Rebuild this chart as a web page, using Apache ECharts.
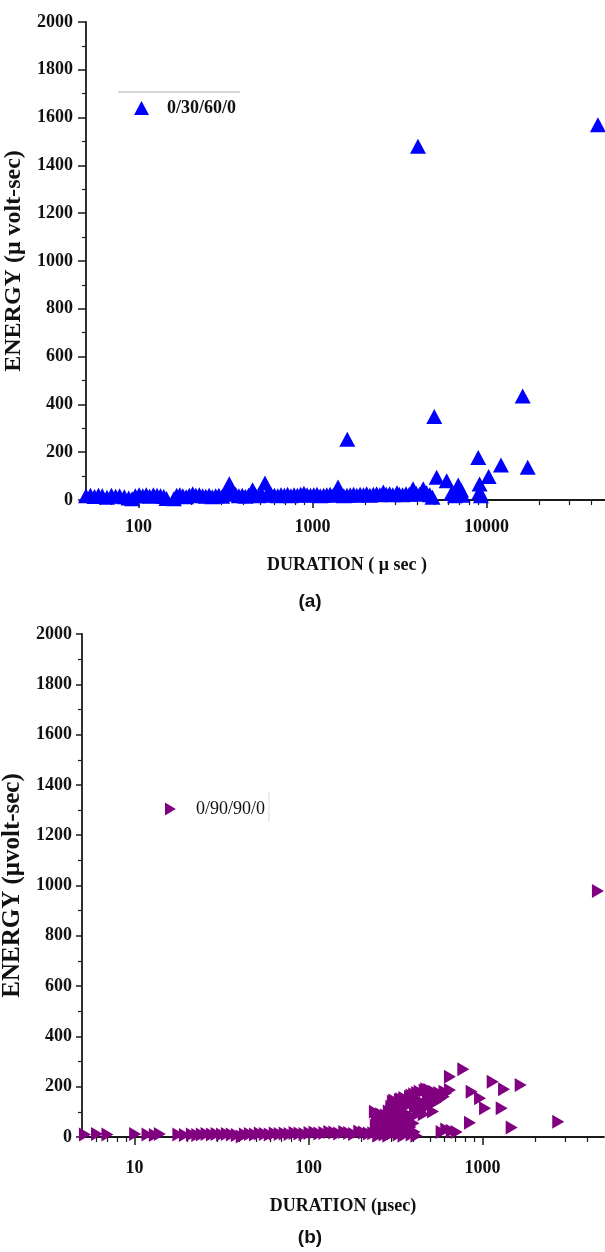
<!DOCTYPE html>
<html><head><meta charset="utf-8">
<script src="https://cdn.jsdelivr.net/npm/echarts@6/dist/echarts.min.js"></script>
<style>html,body{margin:0;padding:0;background:#fff;}#c{width:605px;height:1252px;}</style>
</head><body><div id="c"></div>
<script>
// ---------- DATA ----------
const seriesNameA = '0/30/60/0';
const seriesNameB = '0/90/90/0';

// Panel (a): duration (µs) and energy (µvolt-sec)
const durationA = [50,53,56,59,62,66,70,74,78,83,88,92,96,101,106,111,116,122,128,134,140,145,160,166,173,180,188,196,205,214,224,234,244,255,266,278,290,303,317,333,348,362,378,395,412,430,453,470,490,512,534,555,580,605,632,660,690,720,752,785,820,856,894,933,975,1018,1063,1110,1160,1210,1265,1320,1380,1404,1450,1515,1580,1650,1725,1800,1880,1965,2050,2140,2240,2340,2440,2556,2660,2780,2900,3065,3160,3300,3450,3600,3790,3950,4130,4336,4530,4730,4900,
  1587,4045,5018,5176,5913,6300,6600,6890,7150,7300,8981,9140,9140,9300,10300,12130,16170,17280,43750];
const energyA = [18,20,15,20,18,12,20,16,18,14,8,5,18,22,18,22,16,22,20,18,15,6,5,20,22,18,14,20,26,20,22,18,16,20,14,18,20,16,30,68,35,24,18,20,16,20,43,22,18,22,71,30,22,20,18,22,20,24,18,22,20,24,28,22,20,22,24,18,20,22,24,20,30,54,24,18,20,22,24,20,24,22,26,20,24,26,22,33,24,26,22,30,24,22,26,24,47,28,24,47,30,22,12,
  254,1480,349,95,81,28,18,63,42,20,178,67,35,18,98,146,435,137,1570];

// Panel (b)
const durationB = [5.2,6.1,7.0,10.1,11.9,13.1,14.0,17.9,19.5,21.4,23,24.4,26,27.9,29.7,31.9,34,36.3,38.8,41.4,43.2,46.1,49.3,52.6,56.2,60,64.1,68.4,73,78,83.3,89,95,101.5,108.4,115.7,123.6,132,141,150.5,160.8,171.6,183,196,209,223,
  236,244,248,241,252,258,250,262,262,268,257,274,266,280,278,285,290,288,296,284,300,305,296,310,318,308,314,330,322,328,340,334,345,352,348,357,366,360,370,378,372,392,386,398,408,402,418,
  300,306,316,312,330,336,346,342,362,356,380,384,396,392,410,414,406,425,430,422,440,446,436,460,455,466,480,486,476,500,505,496,520,515,526,545,550,570,565,600,606,620,
  583,620,651,651,666,711,777,849,868,970,1036,1146,1291,1332,1474,1660,2729,4616];
const energyB = [10,12,10,12,10,8,12,10,8,10,8,10,12,10,12,10,12,10,8,2,10,12,10,14,12,10,14,12,14,12,16,14,12,16,18,14,16,20,18,14,20,16,12,22,18,14,
  15,45,80,100,5,30,60,90,20,50,72,10,40,85,25,55,101,5,35,70,107,15,50,85,25,60,95,10,40,75,20,55,100,5,30,65,15,45,90,25,60,10,40,80,20,55,5,
  120,140,110,145,125,147,135,150,120,155,130,160,140,165,120,150,170,110,145,175,100,140,180,90,135,185,120,160,190,130,170,187,101,150,180,140,170,150,175,160,180,175,
  20,30,240,187,25,20,269,57,180,154,114,220,114,190,38,207,61,978];

const xLabelsA = [100,1000,10000];
const xMinorA = [60,70,80,90,200,300,400,500,600,700,800,900,2000,3000,4000,5000,6000,7000,8000,9000,20000,30000,40000];
const xLabelsB = [10,100,1000];
const xMinorB = [6,7,8,9,20,30,40,50,60,70,80,90,200,300,400,500,600,700,800,900,2000,3000,4000];

// ---------- CHART ----------
const serif = 'Liberation Serif';
const axisColor = '#1a1a1a';
const triRight = 'path://M0,0L10,6L0,12Z';

function pairs(xs, ys){ return xs.map((x,i)=>[x, ys[i]]); }

function yAxisCfg(grid, name, gap, margin, tickLen, nameSize){
  return {
    gridIndex: grid, type:'value', min:0, max:2000, interval:200,
    name: name, nameLocation:'middle', nameGap: gap,
    nameTextStyle:{fontFamily:serif, fontWeight:'bold', fontSize:nameSize, color:'#111'},
    axisLine:{show:true, lineStyle:{color:axisColor, width:1.8}},
    axisTick:{show:true, length:tickLen, lineStyle:{color:axisColor, width:1.5}},
    minorTick:{show:true, splitNumber:2, length:4, lineStyle:{color:axisColor, width:1.2}},
    splitLine:{show:false},
    axisLabel:{fontFamily:serif, fontWeight:'bold', fontSize:18, color:'#111', margin: margin,
      formatter: v => String(v)}
  };
}
function xMajorCfg(grid, name, gap, mn, mx, labels, margin){
  return {
    gridIndex: grid, type:'log', logBase:10, min:mn, max:mx,
    name: name, nameLocation:'middle', nameGap: gap,
    nameTextStyle:{fontFamily:serif, fontWeight:'bold', fontSize:18, color:'#111'},
    axisLine:{show:true, lineStyle:{color:axisColor, width:1.8}},
    axisTick:{show:true, length:8, customValues: labels, lineStyle:{color:axisColor, width:1.5}},
    splitLine:{show:false},
    axisLabel:{fontFamily:serif, fontWeight:'bold', fontSize:18, color:'#111', margin: margin,
      customValues: labels, formatter: v => String(Math.round(v))}
  };
}
function xMinorCfg(grid, mn, mx, minors){
  return {
    gridIndex: grid, type:'log', logBase:10, min:mn, max:mx, position:'bottom',
    axisLine:{show:false},
    axisTick:{show:true, length:5, customValues: minors, lineStyle:{color:axisColor, width:1.2}},
    axisLabel:{show:false}, splitLine:{show:false}
  };
}

const chart = echarts.init(document.getElementById('c'), null, {renderer:'canvas'});
chart.setOption({
  backgroundColor:'#ffffff',
  animation:false,
  grid:[
    {left:86, top:22, width:522, height:478, outerBoundsMode:'none', containLabel:false},
    {left:82, top:634, width:522, height:503, outerBoundsMode:'none', containLabel:false}
  ],
  xAxis:[
    xMajorCfg(0, 'DURATION ( \u03bc sec )', 56, 50, 50000, xLabelsA, 18),
    xMinorCfg(0, 50, 50000, xMinorA),
    xMajorCfg(1, 'DURATION (\u03bcsec)', 60, 5, 5000, xLabelsB, 22),
    xMinorCfg(1, 5, 5000, xMinorB)
  ],
  yAxis:[
    yAxisCfg(0, 'ENERGY (\u03bc volt-sec)', 53, 13, 8, 24),
    yAxisCfg(1, 'ENERGY (\u03bcvolt-sec)', 49, 10, 6, 25)
  ],
  legend:[
    {data:[seriesNameA], left:134, top:99, padding:0, itemWidth:15, itemHeight:14,
     textStyle:{fontFamily:serif, fontWeight:'bold', fontSize:18, color:'#111', padding:[0,0,0,13]}},
    {data:[seriesNameB], left:165, top:800, padding:0, itemWidth:11, itemHeight:13, icon: triRight,
     textStyle:{fontFamily:serif, fontWeight:'normal', fontSize:18, color:'#111', padding:[0,0,0,15]}}
  ],
  graphic:[
    {type:'line', shape:{x1:118, y1:92, x2:240, y2:92}, style:{stroke:'#c8c8c8', lineWidth:1.5}},
    {type:'line', shape:{x1:269, y1:792, x2:269, y2:822}, style:{stroke:'#dddddd', lineWidth:1}},
    {type:'text', x:310, y:602, style:{text:'(a)', font:'bold 19px "Liberation Sans"', fill:'#111', textAlign:'center', textVerticalAlign:'middle'}},
    {type:'text', x:310, y:1238, style:{text:'(b)', font:'bold 19px "Liberation Sans"', fill:'#111', textAlign:'center', textVerticalAlign:'middle'}}
  ],
  series:[
    {name:seriesNameA, type:'scatter', xAxisIndex:0, yAxisIndex:0, symbol:'triangle', symbolSize:[16,15],
     itemStyle:{color:'#0000ff', opacity:1}, data: pairs(durationA, energyA)},
    {name:seriesNameB, type:'scatter', xAxisIndex:2, yAxisIndex:1, symbol:triRight, symbolSize:[12,14],
     itemStyle:{color:'#800080', opacity:1}, data: pairs(durationB, energyB)}
  ]
});
</script></body></html>
